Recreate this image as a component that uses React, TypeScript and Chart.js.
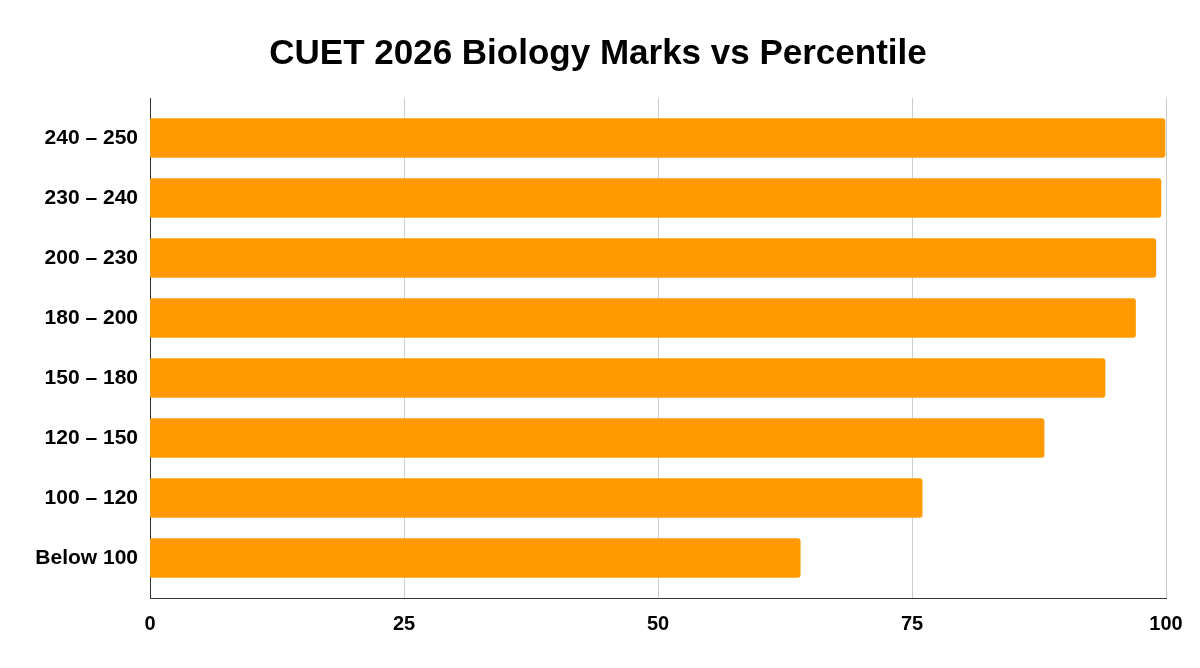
import React, { useEffect, useRef } from "react";
import { Chart, registerables } from "chart.js";

Chart.register(...registerables);

const TITLE = "CUET 2026 Biology Marks vs Percentile";
const categories = [
  "240 – 250",
  "230 – 240",
  "200 – 230",
  "180 – 200",
  "150 – 180",
  "120 – 150",
  "100 – 120",
  "Below 100",
];
const percentiles = [99.9, 99.5, 99, 97, 94, 88, 76, 64];
const xTicks = [0, 25, 50, 75, 100];

const BAR_COLOR = "#FF9900";
const GRID_COLOR = "#cccccc";
const AXIS_COLOR = "#333333";
const FONT = "'Liberation Sans', Arial, sans-serif";

const framePlugin = {
  id: "frame",
  beforeDatasetsDraw(chart: any) {
    const { ctx, chartArea, scales } = chart;
    const x = scales.x;
    const top = chartArea.top - 10;
    const bottom = chartArea.bottom + 10;
    ctx.save();
    ctx.lineWidth = 1;
    ctx.strokeStyle = GRID_COLOR;
    xTicks.forEach((v) => {
      if (v === 0) return;
      const px = Math.round(x.getPixelForValue(v)) + 0.5;
      ctx.beginPath();
      ctx.moveTo(px, top);
      ctx.lineTo(px, bottom);
      ctx.stroke();
    });
    ctx.strokeStyle = AXIS_COLOR;
    const x0 = Math.round(x.getPixelForValue(0)) + 0.5;
    ctx.beginPath();
    ctx.moveTo(x0, top);
    ctx.lineTo(x0, bottom);
    ctx.stroke();
    ctx.beginPath();
    ctx.moveTo(x0 - 0.5, bottom + 0.5);
    ctx.lineTo(Math.round(x.getPixelForValue(100)) + 1, bottom + 0.5);
    ctx.stroke();
    ctx.restore();
  },
};

export default function App() {
  const canvasRef = useRef<HTMLCanvasElement | null>(null);

  useEffect(() => {
    document.body.style.margin = "0";
    const canvas = canvasRef.current;
    if (!canvas) return;
    const chart = new Chart(canvas, {
      type: "bar",
      data: {
        labels: categories,
        datasets: [
          {
            label: "Percentile",
            data: percentiles,
            backgroundColor: BAR_COLOR,
            borderRadius: 3,
            borderSkipped: false,
            barThickness: 39,
          },
        ],
      },
      options: {
        indexAxis: "y",
        animation: false,
        responsive: true,
        maintainAspectRatio: false,
        layout: { padding: { top: 0, right: 34, bottom: 0, left: 30 } },
        plugins: {
          legend: { display: false },
          tooltip: { enabled: false },
          title: {
            display: true,
            text: TITLE,
            color: "#000000",
            font: { family: FONT, size: 35, weight: "bold", lineHeight: 1.2 },
            padding: { top: 33, bottom: 33 },
          },
        },
        scales: {
          x: {
            type: "linear",
            min: 0,
            max: 100,
            afterBuildTicks(scale: any) {
              scale.ticks = xTicks.map((v) => ({ value: v }));
            },
            afterFit(scale: any) {
              scale.height = 80;
              scale.paddingLeft = 0;
              scale.paddingRight = 0;
            },
            grid: { display: false, drawTicks: false },
            border: { display: false },
            ticks: {
              color: "#000000",
              padding: 24,
              font: { family: FONT, size: 20, weight: "bold" },
              maxRotation: 0,
            },
          },
          y: {
            type: "category",
            afterFit(scale: any) {
              scale.width = 120;
              scale.paddingTop = 0;
              scale.paddingBottom = 0;
            },
            grid: { display: false, drawTicks: false },
            border: { display: false },
            ticks: {
              color: "#000000",
              padding: 12,
              font: { family: FONT, size: 21, weight: "bold" },
            },
          },
        },
      },
      plugins: [framePlugin],
    });
    return () => chart.destroy();
  }, []);

  return (
    <div style={{ width: 1200, height: 668, position: "relative", background: "#ffffff" }}>
      <canvas ref={canvasRef} />
    </div>
  );
}
